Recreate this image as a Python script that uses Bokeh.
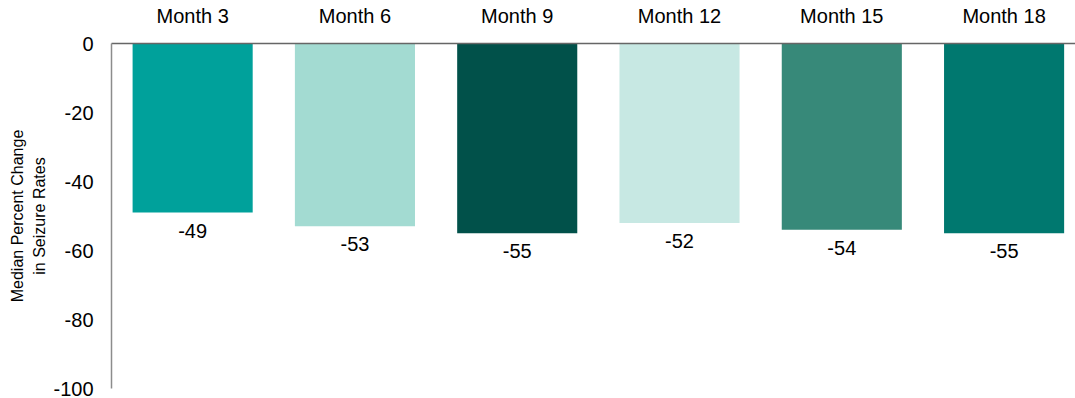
from bokeh.plotting import figure
from bokeh.models import ColumnDataSource, FixedTicker, Range1d, Title
from bokeh.embed import file_html
from bokeh.resources import INLINE
from bokeh.core.properties import value

# Median percent change in seizure rates by visit
months = ["Month 3", "Month 6", "Month 9", "Month 12", "Month 15", "Month 18"]
median_change = [-49, -53, -55, -52, -54, -55]
y_ticks = [0, -20, -40, -60, -80, -100]
y_title = ["Median Percent Change", "in Seizure Rates"]

palette = ["#00A19B", "#A3DBD2", "#01514A", "#C7E8E3", "#378979", "#00786F"]

FONT = "Liberation Sans"

idx = list(range(len(months)))
src = ColumnDataSource(dict(
    x=idx,
    val=median_change,
    label=[str(v) for v in median_change],
    color=palette,
))

p = figure(
    width=1075, height=398,
    x_range=Range1d(-0.5, 5.44),
    y_range=Range1d(-100, 0),
    x_axis_location="above",
    output_backend="svg",
    toolbar_location=None,
    min_border_left=111, min_border_right=0,
    min_border_top=43, min_border_bottom=10,
)
p.outline_line_color = None
p.grid.grid_line_color = None
p.background_fill_color = "white"
p.border_fill_color = "white"

p.vbar(x="x", top=0, bottom="val", width=0.74, color="color", line_color=None, source=src)
p.text(x="x", y="val", text="label", source=src,
       text_align="center", text_baseline="middle", y_offset=18,
       text_font=value(FONT), text_font_size="20px", text_color="#000000")

# Category labels along the top axis
xa = p.xaxis[0]
xa.ticker = FixedTicker(ticks=idx)
xa.major_label_overrides = {i: m for i, m in zip(idx, months)}
xa.major_tick_line_color = None
xa.major_tick_out = 0
xa.minor_tick_line_color = None
xa.major_label_text_font = FONT
xa.major_label_text_font_size = "20px"
xa.major_label_text_color = "#000000"
xa.major_label_standoff = 17
xa.axis_line_color = "#666666"
xa.axis_line_width = 1.5

ya = p.yaxis[0]
ya.ticker = FixedTicker(ticks=y_ticks)
ya.major_label_overrides = {t: str(t) for t in y_ticks}
ya.major_tick_line_color = None
ya.major_tick_out = 0
ya.minor_tick_line_color = None
ya.major_label_text_font = FONT
ya.major_label_text_font_size = "20px"
ya.major_label_text_color = "#000000"
ya.major_label_standoff = 18
ya.axis_line_color = "#8c8c8c"
ya.axis_line_width = 1.5

# Two-line vertical axis title, inner line first
for line, gap in zip(reversed(y_title), (5, 2)):
    p.add_layout(Title(text=line, align="center", text_font=FONT,
                       text_font_size="16px", text_font_style="normal",
                       text_color="#000000", standoff=gap), "left")

open("out.html", "w").write(file_html(p, INLINE))
